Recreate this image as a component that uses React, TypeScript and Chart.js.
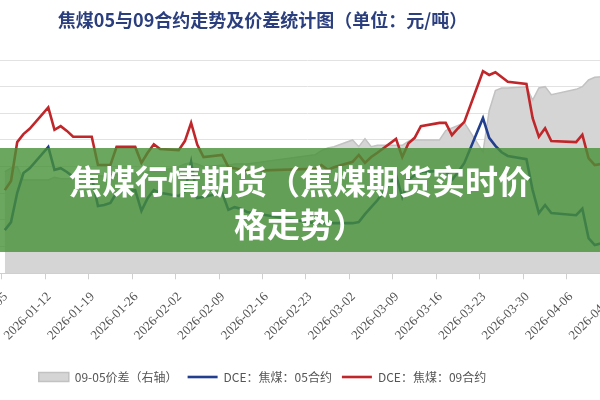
import { useEffect, useRef } from 'react';
import { Chart, registerables } from 'chart.js';

Chart.register(...registerables);

const OFFSET = 90;
const CANVAS_W = 705;
const CANVAS_H = 400;

const titleText = '焦煤05与09合约走势及价差统计图（单位：元/吨）';
const bannerLines = ['焦煤行情期货（焦煤期货实时价', '格走势）'];
const seriesNames = ['09-05价差（右轴）', 'DCE：焦煤：05合约', 'DCE：焦煤：09合约'];

const tickDates = [
  '2026-01-05', '2026-01-12', '2026-01-19', '2026-01-26', '2026-02-02',
  '2026-02-09', '2026-02-16', '2026-02-23', '2026-03-02', '2026-03-09',
  '2026-03-16', '2026-03-23', '2026-03-30', '2026-04-06', '2026-04-13',
];

const tradingDates = [
  '2026-01-05', '2026-01-06', '2026-01-07', '2026-01-08', '2026-01-09',
  '2026-01-12', '2026-01-13', '2026-01-14', '2026-01-15', '2026-01-16',
  '2026-01-19', '2026-01-20', '2026-01-21', '2026-01-22', '2026-01-23',
  '2026-01-26', '2026-01-27', '2026-01-28', '2026-01-29', '2026-01-30',
  '2026-02-02', '2026-02-03', '2026-02-04', '2026-02-05', '2026-02-06',
  '2026-02-09', '2026-02-10', '2026-02-11', '2026-02-12', '2026-02-13',
  '2026-02-24', '2026-02-25', '2026-02-26', '2026-02-27',
  '2026-03-02', '2026-03-03', '2026-03-04', '2026-03-05', '2026-03-06',
  '2026-03-09', '2026-03-10', '2026-03-11', '2026-03-12', '2026-03-13',
  '2026-03-16', '2026-03-17', '2026-03-18', '2026-03-19', '2026-03-20',
  '2026-03-23', '2026-03-24', '2026-03-25', '2026-03-26', '2026-03-27',
  '2026-03-30', '2026-03-31', '2026-04-01', '2026-04-02', '2026-04-03',
  '2026-04-07', '2026-04-08', '2026-04-09', '2026-04-10',
  '2026-04-13',
];

const contract09 = [
  1156, 1173, 1246, 1261, 1271,
  1311, 1269, 1276, 1267, 1256,
  1256, 1203, 1203, 1203, 1237,
  1237, 1207, 1226, 1242, 1233,
  1231, 1248, 1282, 1241, 1218,
  1222, 1199, 1197, 1194, 1192,
  1196, 1203, 1194, 1199,
  1209, 1222, 1207, 1218, 1226,
  1252, 1218, 1244, 1254, 1276,
  1282, 1282, 1259, 1272, 1284,
  1379, 1372, 1377, 1368, 1359,
  1355, 1291, 1256, 1272, 1248,
  1246, 1260, 1216, 1203,
  1209,
];

const contract05 = [
  1081, 1096, 1151, 1188, 1197,
  1237, 1194, 1197, 1190, 1181,
  1181, 1126, 1128, 1132, 1151,
  1156, 1117, 1141, 1156, 1151,
  1145, 1154, 1209, 1141, 1143,
  1151, 1119, 1124, 1121, 1115,
  1094, 1094, 1094, 1094,
  1094, 1096, 1111, 1124, 1137,
  1184, 1143, 1175, 1184, 1190,
  1192, 1192, 1175, 1190, 1207,
  1291, 1254, 1239, 1227, 1220,
  1214, 1156, 1113, 1128, 1113,
  1109, 1121, 1066, 1053,
  1062,
];

const spread0905 = [
  76, 79, 80, 70, 70,
  70, 72, 71, 71, 71,
  73, 73, 73, 74, 74,
  75, 75, 76, 76, 77,
  80, 82, 83, 82, 80,
  81, 81, 82, 82, 82,
  89, 92, 94, 95,
  100, 95, 101, 95, 96,
  96, 96, 99, 100, 100,
  100, 107, 109, 111, 113,
  91, 122, 137, 139, 139,
  140, 130, 139, 140, 134,
  138, 140, 145, 147,
  148,
];

const BASE = Date.UTC(2026, 0, 5);
const dayOf = (s: string) => (Date.parse(s + 'T00:00:00Z') - BASE) / 864e5;

const bannerPlugin = {
  id: 'banner',
  afterDraw(chart: any) {
    const ctx = chart.ctx as CanvasRenderingContext2D;
    ctx.save();
    ctx.fillStyle = 'rgba(70,145,55,0.8)';
    ctx.fillRect(0, 148, CANVAS_W, 104);
    ctx.fillStyle = '#ffffff';
    ctx.font = 'bold 33px "Noto Sans CJK SC"';
    ctx.textAlign = 'center';
    ctx.textBaseline = 'middle';
    ctx.fillText(bannerLines[0], OFFSET + 300, 181);
    ctx.fillText(bannerLines[1], OFFSET + 300, 224);
    ctx.restore();
  },
};

export default function App() {
  const ref = useRef<HTMLCanvasElement | null>(null);

  useEffect(() => {
    if (!ref.current) return;
    const xs = tradingDates.map((d) => dayOf(d) + 0.5);
    const pts = (arr: number[]) => arr.map((v, i) => ({ x: xs[i], y: v }));

    const chart = new Chart(ref.current, {
      type: 'line',
      data: {
        datasets: [
          {
            label: seriesNames[0],
            data: pts(spread0905),
            yAxisID: 'y1',
            fill: 'start',
            backgroundColor: '#d5d5d5',
            borderColor: '#c2c2c2',
            borderWidth: 1.5,
            pointRadius: 0,
            pointStyle: 'rect',
            tension: 0,
            order: 3,
          },
          {
            label: seriesNames[1],
            data: pts(contract05),
            yAxisID: 'y',
            borderColor: '#213f8e',
            backgroundColor: '#213f8e',
            borderWidth: 2.6,
            pointRadius: 0,
            pointStyle: 'line',
            tension: 0,
            fill: false,
            order: 2,
          },
          {
            label: seriesNames[2],
            data: pts(contract09),
            yAxisID: 'y',
            borderColor: '#c0272b',
            backgroundColor: '#c0272b',
            borderWidth: 2.6,
            pointRadius: 0,
            pointStyle: 'line',
            tension: 0,
            fill: false,
            order: 1,
          },
        ],
      },
      options: {
        responsive: false,
        animation: false,
        layout: { padding: { top: 0, bottom: 7, left: 0, right: 0 } },
        plugins: {
          title: {
            display: true,
            text: titleText,
            color: '#2b3f7e',
            font: { family: '"Noto Sans CJK SC"', size: 18, weight: 'bold', lineHeight: 1.2 },
            padding: { top: 9.2, bottom: 29.2 },
          },
          legend: {
            position: 'bottom',
            labels: {
              usePointStyle: true,
              pointStyleWidth: 30,
              boxHeight: 9,
              padding: 10,
              color: '#555555',
              font: { family: '"Noto Sans CJK SC"', size: 12 },
              sort: (a: any, b: any) => a.datasetIndex - b.datasetIndex,
            },
          },
          tooltip: { enabled: false },
        },
        scales: {
          x: {
            type: 'linear',
            min: -0.274,
            max: 98.76,
            afterBuildTicks: (s: any) => {
              s.ticks = tickDates.map((d) => ({ value: dayOf(d) }));
            },
            afterFit: (s: any) => {
              s.height = 87.7;
              s.paddingLeft = 0;
              s.paddingRight = 0;
            },
            ticks: {
              autoSkip: false,
              minRotation: 45,
              maxRotation: 45,
              padding: 10,
              labelOffset: 4,
              color: '#555555',
              font: { family: '"Liberation Serif"', size: 13 },
              callback: (_v: any, i: number) => tickDates[i],
            },
            grid: { drawOnChartArea: false, drawTicks: true, tickLength: 6, color: '#cfcfcf' },
            border: { color: '#cfcfcf' },
          },
          y: {
            position: 'left',
            min: 1000,
            max: 1400,
            ticks: { display: false, stepSize: 50 },
            grid: { color: '#e2e2e2', drawTicks: false },
            border: { display: false },
            afterFit: (s: any) => {
              s.width = OFFSET;
            },
          },
          y1: {
            position: 'right',
            display: false,
            min: 0,
            max: 160,
          },
        },
      },
      plugins: [bannerPlugin],
    });
    return () => chart.destroy();
  }, []);

  return (
    <div style={{ position: 'fixed', left: 0, top: 0, width: 600, height: 400, overflow: 'hidden', background: '#ffffff' }}>
      <div style={{ position: 'absolute', left: -OFFSET, top: 0, width: CANVAS_W, height: CANVAS_H }}>
        <canvas ref={ref} width={CANVAS_W} height={CANVAS_H} style={{ display: 'block' }} />
      </div>
    </div>
  );
}
